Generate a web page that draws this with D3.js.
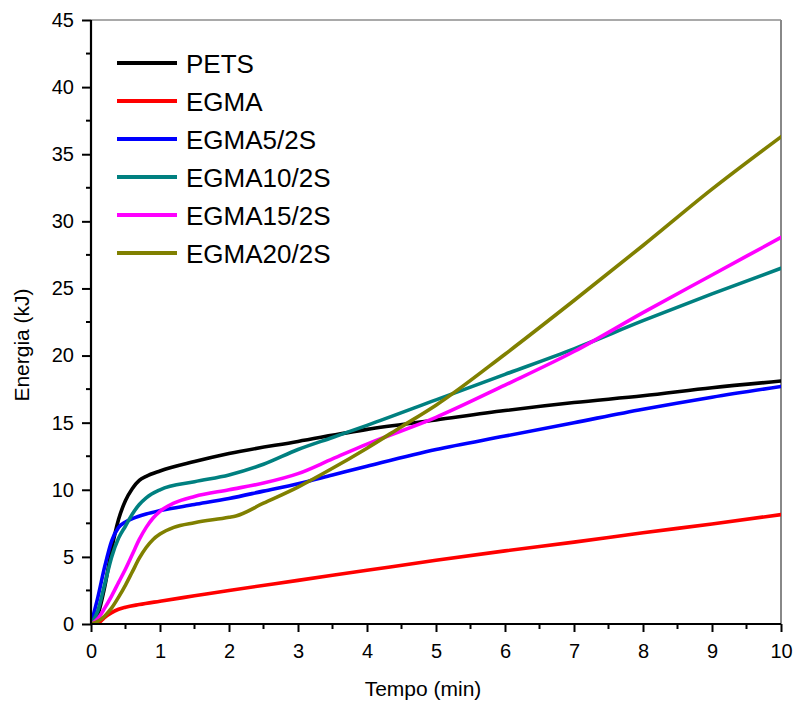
<!DOCTYPE html>
<html><head><meta charset="utf-8">
<script src="https://cdn.jsdelivr.net/npm/d3@7"></script>
<style>body{margin:0;background:#fff;} svg{display:block;font-family:Arial,"Liberation Sans",sans-serif;}</style>
</head><body>
<svg id="chart" width="795" height="704"></svg>
<script>
const seriesNames = ["PETS","EGMA","EGMA5/2S","EGMA10/2S","EGMA15/2S","EGMA20/2S"];
const seriesColors = ["#000000","#ff0000","#0000ff","#008080","#ff00ff","#808000"];

const petsX = [0,0.1,0.2,0.3,0.4,0.5,0.6,0.7,0.8,1.0,1.5,2,3,4,5,6,7,8,9,10];
const petsY = [0,0.7,2.8,5.6,7.8,9.2,10.1,10.7,11.0,11.4,12.1,12.7,13.6,14.5,15.2,15.9,16.5,17.0,17.6,18.1];

const egmaX = [0,0.08,0.15,0.2,0.3,0.4,0.5,0.7,1,1.5,2,3,4,5,6,7,8,9,10];
const egmaY = [0,0,0.25,0.5,0.85,1.1,1.25,1.45,1.7,2.1,2.5,3.25,4.0,4.75,5.45,6.1,6.8,7.45,8.15];

const egma5X = [0,0.1,0.2,0.3,0.4,0.5,0.6,0.8,1.0,1.5,2,2.5,3,3.5,4,5,6,7,8,9,10];
const egma5Y = [0,2.0,4.3,6.2,7.2,7.6,7.85,8.2,8.45,8.9,9.35,9.9,10.45,11.1,11.75,13.0,14.0,15.0,16.0,16.9,17.7];

const egma10X = [0,0.1,0.2,0.3,0.4,0.5,0.6,0.7,0.8,1.0,1.5,2.0,2.5,3,3.5,4,5,6,7,8,9,10];
const egma10Y = [0,1.0,3.0,5.0,6.4,7.3,8.2,8.9,9.4,10.0,10.6,11.1,11.9,13.0,13.9,14.8,16.7,18.6,20.5,22.6,24.6,26.5];

const egma15X = [0,0.1,0.2,0.3,0.4,0.5,0.6,0.7,0.8,0.9,1.0,1.2,1.5,2,2.5,3,3.5,4,5,6,7,8,9,10];
const egma15Y = [0,0.4,1.2,2.1,3.1,4.1,5.2,6.3,7.2,7.9,8.4,9.0,9.5,10.0,10.5,11.2,12.3,13.4,15.4,17.8,20.3,23.2,26.0,28.8];

const egma20X = [0,0.1,0.2,0.3,0.4,0.5,0.6,0.7,0.8,0.9,1.0,1.2,1.5,2.0,2.1,2.5,3,3.5,4,4.5,5,6,7,8,9,10];
const egma20Y = [0,0.2,0.6,1.2,2.0,2.9,3.9,4.9,5.7,6.3,6.7,7.2,7.55,7.95,8.05,9.0,10.2,11.6,13.1,14.7,16.3,20.1,24.1,28.2,32.4,36.3];

const xTicks = [0,1,2,3,4,5,6,7,8,9,10];
const yTicks = [0,5,10,15,20,25,30,35,40,45];
const xMinor = [0.5,1.5,2.5,3.5,4.5,5.5,6.5,7.5,8.5,9.5];
const yMinor = [2.5,7.5,12.5,17.5,22.5,27.5,32.5,37.5,42.5];

const allX = [petsX, egmaX, egma5X, egma10X, egma15X, egma20X];
const allY = [petsY, egmaY, egma5Y, egma10Y, egma15Y, egma20Y];

const svg = d3.select("#chart");
const m = {left:91, top:20, right:14, bottom:80};
const W = 795, H = 704;
const x = d3.scaleLinear().domain([0,10]).range([m.left, W - m.right]);
const y = d3.scaleLinear().domain([0,45]).range([H - m.bottom, m.top]);

// frame (top/right)
svg.append("line").attr("x1", x(0)).attr("x2", x(10)).attr("y1", y(45)).attr("y2", y(45))
  .attr("stroke", "#555").attr("stroke-width", 1.2);
svg.append("line").attr("x1", x(10)).attr("x2", x(10)).attr("y1", y(45)).attr("y2", y(0))
  .attr("stroke", "#888").attr("stroke-width", 2);

// series
const line = d3.line().curve(d3.curveMonotoneX).x(d => x(d[0])).y(d => y(d[1]));
const clip = svg.append("clipPath").attr("id","clip").append("rect")
  .attr("x", x(0)).attr("y", y(45)).attr("width", x(10)-x(0)).attr("height", y(0)-y(45));
const g = svg.append("g").attr("clip-path","url(#clip)");
seriesNames.forEach((name, i) => {
  const pts = allX[i].map((v, j) => [v, allY[i][j]]);
  g.append("path").datum(pts).attr("d", line).attr("fill","none")
    .attr("stroke", seriesColors[i]).attr("stroke-width", 3.6)
    .attr("stroke-linejoin","round").attr("stroke-linecap","round");
});

// axes
const xAxis = svg.append("g").attr("transform", `translate(0,${y(0)})`)
  .call(d3.axisBottom(x).tickValues(xTicks).tickSize(8).tickPadding(12).tickFormat(d3.format("d")));
xAxis.append("g").selectAll("line").data(xMinor).join("line")
  .attr("x1", d => x(d)).attr("x2", d => x(d)).attr("y1", 0).attr("y2", 5)
  .attr("stroke", "#000").attr("stroke-width", 2);
const yAxis = svg.append("g").attr("transform", `translate(${x(0)},0)`)
  .call(d3.axisLeft(y).tickValues(yTicks).tickSize(9).tickPadding(8).tickFormat(d3.format("d")));
yAxis.append("g").selectAll("line").data(yMinor).join("line")
  .attr("y1", d => y(d)).attr("y2", d => y(d)).attr("x1", 0).attr("x2", -5)
  .attr("stroke", "#000").attr("stroke-width", 2);
[xAxis, yAxis].forEach(a => {
  a.select(".domain").attr("stroke", "#000").attr("stroke-width", 2.2);
  a.selectAll(".tick line").attr("stroke", "#000").attr("stroke-width", 2);
  a.selectAll(".tick text").attr("fill", "#000").style("font-size", "20px")
    .style("font-family", "Arial, 'Liberation Sans', sans-serif");
});
xAxis.select(".domain").attr("d", `M${x(0)},0H${x(10)}`);
yAxis.select(".domain").attr("d", `M0,${y(0)}V${y(45)}`);

// axis titles
svg.append("text").attr("x", 423).attr("y", 696).attr("text-anchor","middle")
  .style("font-size","21px").text("Tempo (min)");
svg.append("text").attr("transform", `translate(29,345) rotate(-90)`).attr("text-anchor","middle")
  .style("font-size","21px").text("Energia (kJ)");

// legend
const lg = svg.append("g");
seriesNames.forEach((name, i) => {
  const yy = 63 + i * 38;
  lg.append("line").attr("x1", 117).attr("x2", 177).attr("y1", yy).attr("y2", yy)
    .attr("stroke", seriesColors[i]).attr("stroke-width", 4);
  lg.append("text").attr("x", 186).attr("y", yy + 9.5).style("font-size","26px").text(name);
});
</script>
</body></html>
